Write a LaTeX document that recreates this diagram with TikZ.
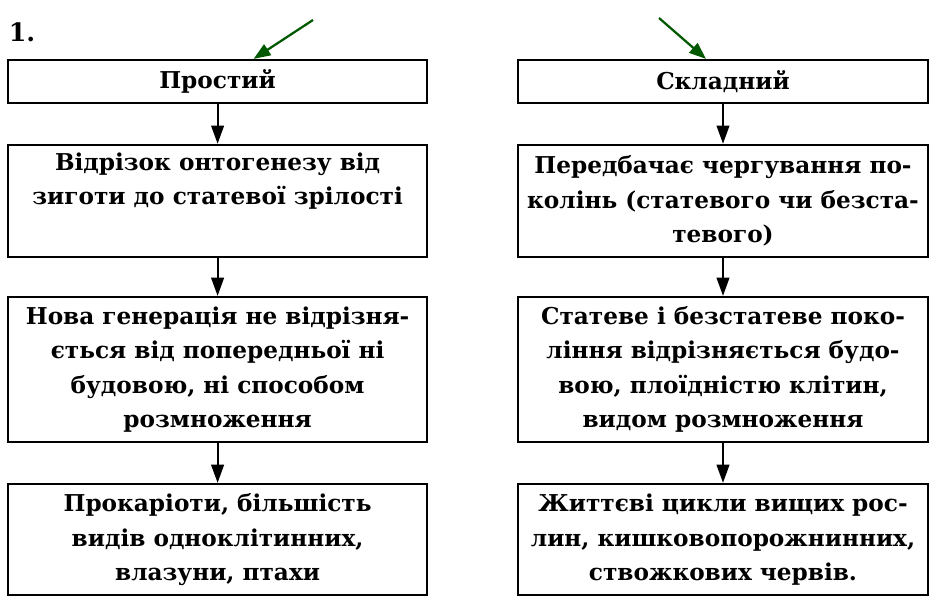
\documentclass[tikz,border=0pt]{standalone}
\usepackage{fontspec}
\setmainfont{DejaVu Serif}
\usetikzlibrary{calc,arrows.meta}

\begin{document}
\begin{tikzpicture}[
                box/.style={draw,line width=1.7pt,align=center,inner sep=0pt,
                    font=\bfseries\fontsize{16.5}{24.5}\selectfont},
                leftbox/.style={box,minimum width=10.475cm},
                rightbox/.style={box,minimum width=10.25cm},
                down/.style={line width=1.5pt,-{Triangle[length=13pt,width=9pt]}},
                pointer/.style={line width=1.6pt,green!35!black,-{Triangle[length=12pt,width=9pt]}}]
                \useasboundingbox (0,0) rectangle (23.8,-15.1);
                \node[font=\bfseries\fontsize{18}{20}\selectfont] (num) at (0.55,-0.8) {1.};
                % simple cycle
                \node[leftbox,minimum height=1.075cm] (s1) at (5.44,-2.04) {Простий};
                \node[leftbox,minimum height=2.8cm] (s2) at (5.44,-5.025)
                    {Відрізок онтогенезу від\\зиготи до статевої зрілості\\\strut};
                \node[leftbox,minimum height=3.625cm] (s3) at (5.44,-9.24)
                    {Нова генерація не відрізня-\\ється від попередньої ні\\будовою, ні способом\\розмноження};
                \node[leftbox,minimum height=2.775cm] (s4) at (5.44,-13.49)
                    {Прокаріоти, більшість\\видів одноклітинних,\\влазуни, птахи};
                % complex cycle
                \node[rightbox,minimum height=1.075cm] (c1) at (18.075,-2.04) {Складний};
                \node[rightbox,minimum height=2.8cm] (c2) at (18.075,-5.025)
                    {Передбачає чергування по-\\колінь (статевого чи безста-\\тевого)};
                \node[rightbox,minimum height=3.625cm] (c3) at (18.075,-9.24)
                    {Статеве і безстатеве поко-\\ління відрізняється будо-\\вою, плоїдністю клітин,\\видом розмноження};
                \node[rightbox,minimum height=2.775cm] (c4) at (18.075,-13.49)
                    {Життєві цикли вищих рос-\\лин, кишковопорожнинних,\\ствожкових червів.};
                \coordinate (inS) at (7.825,-0.5);
                \coordinate (inC) at (16.475,-0.45);
                \draw[pointer] (inS)--($(s1.north)+(0.9,0)$);
                \draw[pointer] (inC)--($(c1.north)+(-0.425,0)$);
                \draw[down] (s1)--(s2);
                \draw[down] (s2)--(s3);
                \draw[down] (s3)--(s4);
                \draw[down] (c1)--(c2);
                \draw[down] (c2)--(c3);
                \draw[down] (c3)--(c4);
            \end{tikzpicture}
\end{document}
